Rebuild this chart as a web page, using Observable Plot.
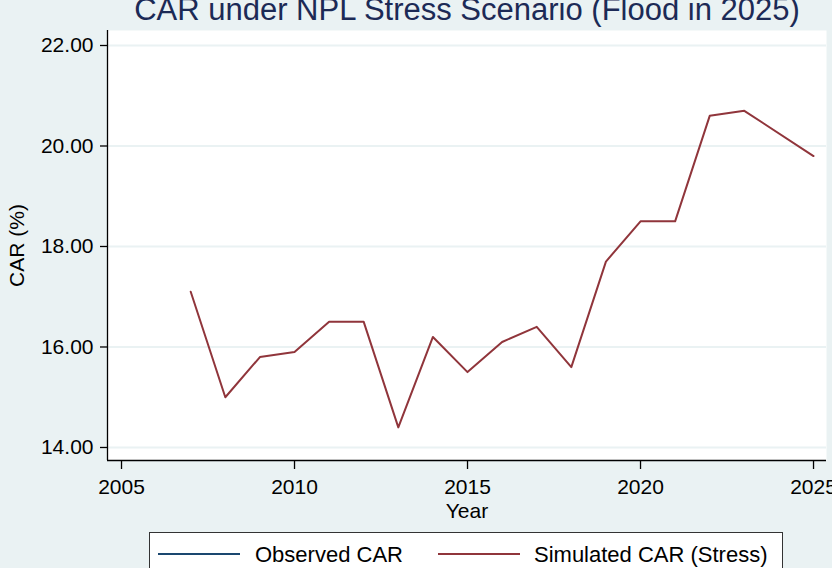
<!DOCTYPE html>
<html>
<head>
<meta charset="utf-8">
<script src="https://cdn.jsdelivr.net/npm/d3@7"></script>
<script src="https://cdn.jsdelivr.net/npm/@observablehq/plot@0.6"></script>
<style>
  html, body { margin: 0; padding: 0; background: #eaf2f3; }
  #wrap { position: relative; width: 832px; height: 568px; overflow: hidden; background: #eaf2f3;
          font-family: "Liberation Sans", Arial, sans-serif; }
  #title { position: absolute; left: 107px; width: 720px; top: -6px; text-align: center;
           font-size: 31px; line-height: 31px; color: #1c2a56; white-space: nowrap; }
  #chart { position: absolute; left: 0; top: 0; }
  #legend { position: absolute; left: 149px; top: 532px; width: 634px; height: 50px;
            background: #fff; border: 1px solid #333; box-sizing: border-box; }
  .item { position: absolute; top: 9px; font-size: 22px; line-height: 25px; color: #000; white-space: nowrap; }
  .swatch { position: absolute; top: 20px; height: 2px; }
</style>
</head>
<body>
<div id="wrap">
  <div id="chart"></div>
  <div id="title"></div>
  <div id="legend"></div>
</div>
<script>
// ---- data ----
const titleText = "CAR under NPL Stress Scenario (Flood in 2025)";
const years = [2007, 2008, 2009, 2010, 2011, 2012, 2013, 2014, 2015, 2016, 2017, 2018, 2019, 2020, 2021, 2022, 2023, 2025];
const simulatedCAR = [17.1, 15.0, 15.8, 15.9, 16.5, 16.5, 14.4, 16.2, 15.5, 16.1, 16.4, 15.6, 17.7, 18.5, 18.5, 20.6, 20.7, 19.8];
const xTicks = [2005, 2010, 2015, 2020, 2025];
const yTicks = [14, 16, 18, 20, 22];
const seriesNames = ["Observed CAR", "Simulated CAR (Stress)"];
const seriesColors = ["#1a476f", "#90353b"];
const xLabel = "Year";
const yLabel = "CAR (%)";

const rows = years.map((y, i) => ({year: y, car: simulatedCAR[i]}));
const xDom = [2004.595, 2025.375];
const yDom = [13.741, 22.2985];

document.getElementById("title").textContent = titleText;

const chart = Plot.plot({
  width: 832,
  height: 530,
  marginLeft: 107,
  marginRight: 6,
  marginTop: 30,
  marginBottom: 70,
  style: {background: "transparent", fontFamily: "Liberation Sans, Arial, sans-serif", fontSize: "21px", color: "#000"},
  x: {domain: xDom, label: null},
  y: {domain: yDom, label: null},
  marks: [
    Plot.frame({fill: "#fff", stroke: null}),
    Plot.gridY(yTicks, {stroke: "#eaf2f3", strokeOpacity: 1, strokeWidth: 2}),
    Plot.line(rows, {x: "year", y: "car", stroke: seriesColors[1], strokeWidth: 2}),
    Plot.ruleX([xDom[0]], {stroke: "#000", strokeWidth: 1.3}),
    Plot.ruleY([yDom[0]], {stroke: "#000", strokeWidth: 1.3}),
    Plot.axisX(xTicks, {tickSize: 9, tickPadding: 10, tickFormat: d => String(d), fontSize: 21, stroke: "#000", strokeWidth: 1.3}),
    Plot.axisY(yTicks, {tickSize: 7, tickPadding: 7, tickFormat: d => d.toFixed(2), fontSize: 21, stroke: "#000", strokeWidth: 1.3}),
    Plot.text([xLabel], {frameAnchor: "bottom", dy: 57, textAnchor: "middle", fontSize: 21, fill: "#000"}),
    Plot.text([yLabel], {frameAnchor: "left", dx: -90, rotate: -90, textAnchor: "middle", fontSize: 21, fill: "#000"})
  ]
});
document.getElementById("chart").appendChild(chart);

// legend
const legend = document.getElementById("legend");
const swX = [8, 288];
const txX = [105, 384];
seriesNames.forEach((name, i) => {
  const sw = document.createElement("div");
  sw.className = "swatch";
  sw.style.left = swX[i] + "px";
  sw.style.width = "82px";
  sw.style.background = seriesColors[i];
  legend.appendChild(sw);
  const t = document.createElement("div");
  t.className = "item";
  t.style.left = txX[i] + "px";
  t.textContent = name;
  legend.appendChild(t);
});
</script>
</body>
</html>
